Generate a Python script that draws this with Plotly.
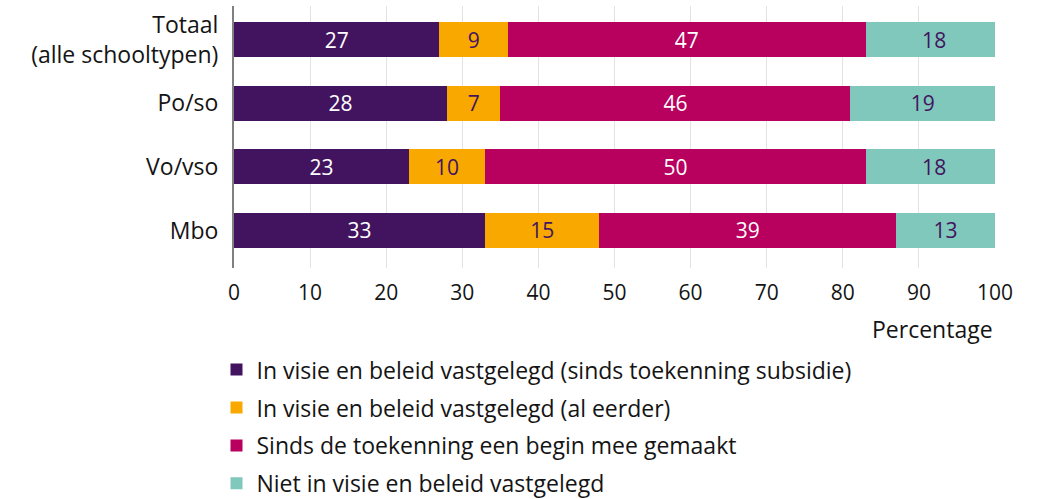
import plotly.graph_objects as go

categories = ["Totaal<br>(alle schooltypen)", "Po/so", "Vo/vso", "Mbo"]
series_names = [
    "In visie en beleid vastgelegd (sinds toekenning subsidie)",
    "In visie en beleid vastgelegd (al eerder)",
    "Sinds de toekenning een begin mee gemaakt",
    "Niet in visie en beleid vastgelegd",
]
sinds_subsidie = [27, 28, 23, 33]
al_eerder = [9, 7, 10, 15]
begin_gemaakt = [47, 46, 50, 39]
niet_vastgelegd = [18, 19, 18, 13]
x_ticks = [0, 10, 20, 30, 40, 50, 60, 70, 80, 90, 100]

colors = ["#42145F", "#F9A800", "#B8005F", "#80C8BB"]
text_colors = ["white", "#42145F", "white", "#42145F"]
FONT = "Open Sans"
TXT = "#141414"

fig = go.Figure()
for i, (name, vals) in enumerate(zip(series_names, [sinds_subsidie, al_eerder, begin_gemaakt, niet_vastgelegd])):
    fig.add_trace(go.Bar(
        y=categories, x=vals, name=name, orientation="h",
        marker=dict(color=colors[i], line=dict(width=0)),
        width=0.55,
        text=[str(v) for v in vals], textposition="inside", textangle=0,
        insidetextanchor="middle", constraintext="none",
        textfont=dict(color=text_colors[i], size=21, family=FONT),
        legendgroup=f"g{i}",
        hoverinfo="skip",
    ))

fig.update_layout(
    barmode="stack",
    width=1039, height=499,
    margin=dict(l=234, r=44, t=6, b=231, autoexpand=False),
    paper_bgcolor="white", plot_bgcolor="white",
    font=dict(family=FONT, size=21, color=TXT),
    showlegend=True,
    legend=dict(
        x=-0.023, xanchor="left", y=-0.306, yanchor="top",
        font=dict(size=23, family=FONT, color=TXT),
        traceorder="grouped", tracegroupgap=5,
        bgcolor="rgba(0,0,0,0)",
    ),
    xaxis=dict(
        range=[0, 100], tickvals=x_ticks, ticktext=[str(t) for t in x_ticks],
        showgrid=True, gridcolor="#E3E3E3", gridwidth=1,
        zeroline=False, showline=False, ticks="",
        ticklabelstandoff=10,
        tickfont=dict(size=21, family=FONT, color=TXT),
        fixedrange=True,
    ),
    yaxis=dict(
        categoryorder="array", categoryarray=categories,
        range=[3.59, -0.53],
        showline=True, linecolor="#808080", linewidth=2,
        showgrid=False, zeroline=False, ticks="",
        ticklabelstandoff=9,
        tickfont=dict(size=23, family=FONT, color=TXT),
        fixedrange=True,
    ),
    annotations=[dict(
        text="Percentage", xref="x", yref="paper", x=100, y=-0.232,
        xanchor="right", yanchor="middle", showarrow=False,
        font=dict(size=23, family=FONT, color=TXT),
    )],
)

fig.write_html(
    "out.html",
    config={"displayModeBar": False, "staticPlot": True},
    post_script="document.body.style.margin='0';document.body.style.overflow='hidden';",
)
